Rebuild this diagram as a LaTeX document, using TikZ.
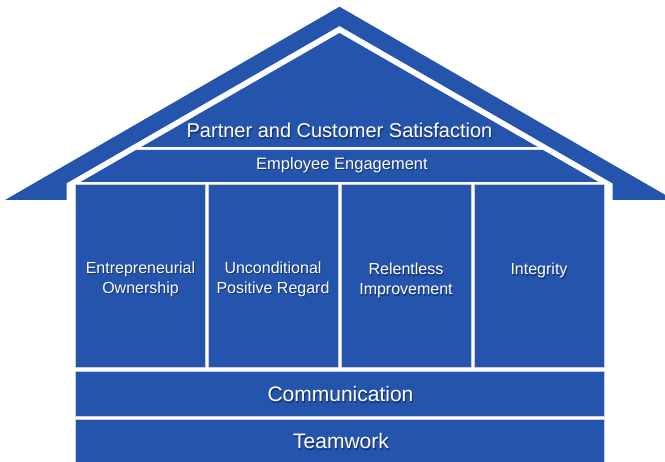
\documentclass[tikz,border=0pt]{standalone}
\usepackage{fontspec}
\setmainfont{Liberation Sans}
\definecolor{hblue}{RGB}{37,84,172}
\definecolor{hshadow}{RGB}{10,25,70}
\definecolor{hedge}{RGB}{200,205,215}
\newcommand\housetext[4]{%
  \node[#3, text=hshadow, opacity=0.55, anchor=base, xshift=1pt, yshift=-1.5pt] (#1-sh) at #2 {#4};
  \node[#3, text=white, anchor=base] (#1) at #2 {#4};}
\begin{document}
\begin{tikzpicture}[x=1pt,y=-1pt,
  roof/.style={fill=hblue},
  box/.style={fill=hblue, draw=hedge, line width=0.6pt},
  tbig/.style={font=\fontsize{20}{24}\selectfont, inner sep=0pt},
  tmid/.style={font=\fontsize{16.5}{20}\selectfont, inner sep=0pt},
  tpil/.style={font=\fontsize{16}{20}\selectfont, align=center, inner sep=0pt},
  tbase/.style={font=\fontsize{21}{25}\selectfont, inner sep=0pt}]
\useasboundingbox (0,0) rectangle (665,462);
\clip (0,0) rectangle (665,462);
% roof band
\fill[roof] (5,200) -- (339.5,6.7) -- (674,200) -- (612.5,200) -- (612.5,183.3)
  -- (339.5,26) -- (66.5,183.3) -- (66.5,200) -- cycle;
% inner triangle parts
\fill[roof] (339.5,33) -- (537.8,147) -- (141.2,147) -- cycle;
\fill[roof] (136,150) -- (543,150) -- (598.5,182) -- (80.5,182) -- cycle;
% pillars
\draw[box] (75.5,184) rectangle (205.5,367.5);
\draw[box] (208,184) rectangle (338.5,367.5);
\draw[box] (341,184) rectangle (471.5,367.5);
\draw[box] (474,184) rectangle (604.5,367.5);
% foundation
\draw[box] (75.5,371) rectangle (604.5,416.5);
\draw[box] (75.5,419) rectangle (604.5,470);
% texts
\housetext{pcs}{(339.5,138)}{tbig}{Partner and Customer Satisfaction}
\housetext{ee}{(342,169.3)}{tmid}{Employee Engagement}
\housetext{eo}{(140.5,293.5)}{tpil}{Entrepreneurial\\Ownership}
\housetext{upr}{(273,293.5)}{tpil}{Unconditional\\Positive Regard}
\housetext{ri}{(406,295)}{tpil}{Relentless\\Improvement}
\housetext{int}{(539,275)}{tpil}{Integrity}
\housetext{com}{(340.5,401.7)}{tbase}{Communication}
\housetext{tw}{(341,449)}{tbase}{Teamwork}
\end{tikzpicture}
\end{document}
